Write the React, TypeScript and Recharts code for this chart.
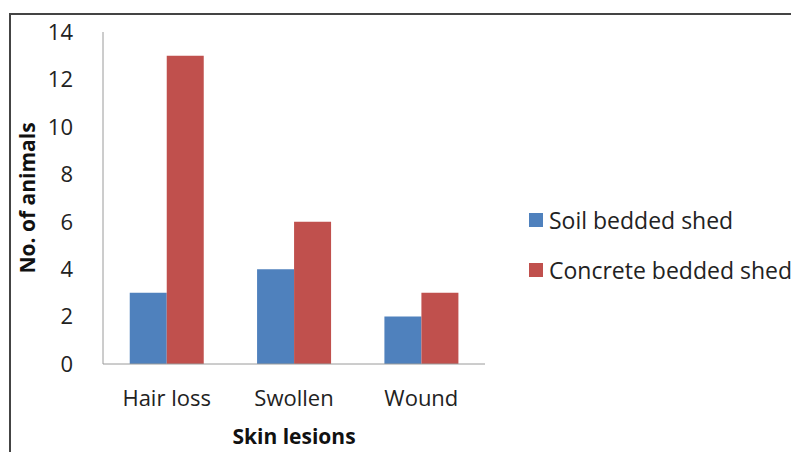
import React from 'react';
import { BarChart, Bar, XAxis, YAxis, Label } from 'recharts';

const categories = ['Hair loss', 'Swollen', 'Wound'];
const soilBedded = [3, 4, 2];
const concreteBedded = [13, 6, 3];
const yTicks = [0, 2, 4, 6, 8, 10, 12, 14];
const seriesNames = ['Soil bedded shed', 'Concrete bedded shed'];
const colors = ['#4F81BD', '#C0504D'];

const data = categories.map((c, i) => ({ name: c, soil: soilBedded[i], concrete: concreteBedded[i] }));

const FONT = '"Open Sans", sans-serif';

const LegendBox = () => (
  <div style={{ position: 'absolute', left: 529, top: 205, fontFamily: FONT, fontSize: 23, color: '#222' }}>
    {seriesNames.map((n, i) => (
      <div key={n} style={{ display: 'flex', alignItems: 'center', height: 30, marginBottom: i === 0 ? 20 : 0 }}>
        <span style={{ display: 'inline-block', width: 14, height: 14, background: colors[i], marginRight: 6 }} />
        <span style={{ whiteSpace: 'nowrap' }}>{n}</span>
      </div>
    ))}
  </div>
);

export default function App() {
  return (
    <div style={{ position: 'absolute', left: 0, top: 0, width: 791, height: 452, background: '#fff', overflow: 'hidden' }}>
      <div style={{ position: 'absolute', left: 9, top: 13, width: 800, height: 460, borderTop: '2px solid #444', borderLeft: '2px solid #444' }} />
      <BarChart
        width={791}
        height={452}
        data={data}
        margin={{ top: 32, right: 306, bottom: 0, left: 0 }}
        barCategoryGap="21%"
        barGap={0}
      >
        <XAxis
          dataKey="name"
          tickLine={false}
          axisLine={{ stroke: '#9a9a9a', strokeWidth: 1 }}
          tick={{ fontFamily: FONT, fontSize: 22, fill: '#222' }}
          tickMargin={20}
          height={88}
        >
          <Label value="Skin lesions" position="insideBottom" offset={8} style={{ fontFamily: FONT, fontSize: 21, fontWeight: 700, fill: '#111' }} />
        </XAxis>
        <YAxis
          domain={[0, 14]}
          ticks={yTicks}
          interval={0}
          tickLine={false}
          axisLine={{ stroke: '#9a9a9a', strokeWidth: 1 }}
          tick={{ fontFamily: FONT, fontSize: 22, fill: '#222' }}
          tickMargin={24}
          width={103}
        >
          <Label value="No. of animals" angle={-90} position="insideLeft" offset={28} style={{ textAnchor: 'middle', fontFamily: FONT, fontSize: 21, fontWeight: 700, fill: '#111' }} />
        </YAxis>
        <Bar dataKey="soil" name={seriesNames[0]} fill={colors[0]} isAnimationActive={false} />
        <Bar dataKey="concrete" name={seriesNames[1]} fill={colors[1]} isAnimationActive={false} />
      </BarChart>
      <LegendBox />
    </div>
  );
}
